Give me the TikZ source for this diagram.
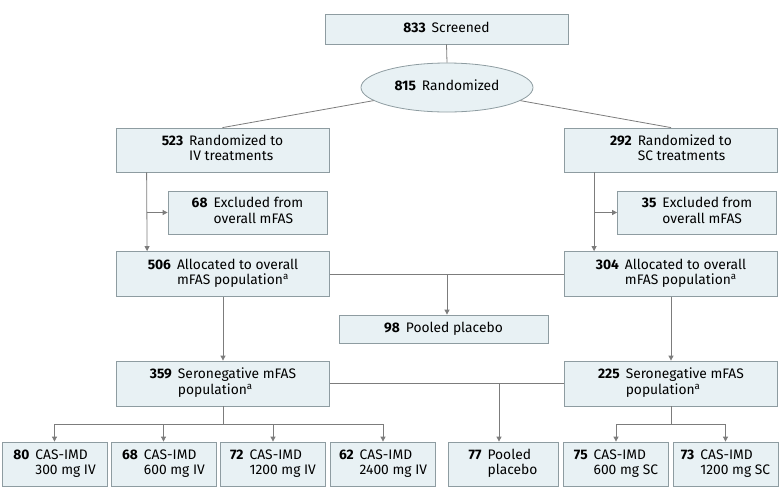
\documentclass[tikz,border=0pt]{standalone}
\usepackage{fontspec}
\setmainfont{Fira Sans}
\usetikzlibrary{arrows.meta,shapes.geometric,calc}
\definecolor{boxfill}{HTML}{E8F1F4}
\definecolor{boxline}{HTML}{8E9CA1}
\definecolor{conn}{HTML}{7C7C7C}
\newcommand\nt[2]{\textbf{#1}\hspace{6pt}\begin{tabular}[t]{@{}l@{}}#2\end{tabular}}
\tikzset{
  box/.style={draw=boxline, fill=boxfill, line width=0.8pt, inner sep=0pt, align=center,
    font=\fontsize{13.8}{15.5}\selectfont},
  wide/.style={box, minimum width=213pt, minimum height=44pt},
  small/.style={box, minimum width=105pt, minimum height=44pt},
  excl/.style={box, minimum width=159pt, minimum height=43pt},
  ln/.style={draw=conn, line width=0.8pt},
  arr/.style={ln, -{Triangle[length=5pt,width=5pt]}}
}
\begin{document}
\begin{tikzpicture}[x=1pt,y=-1pt]
\useasboundingbox (0,0) rectangle (780,499);
% nodes
\node[box, minimum width=243pt, minimum height=30pt] (scr) at (446.5,29) {\nt{833}{Screened}};
\node[box, ellipse, minimum width=172pt, minimum height=49pt] (ell) at (447,87.5) {\nt{815}{Randomized}};
\node[wide] (b523) at (222.5,150) {\nt{523}{Randomized to\\IV treatments}};
\node[wide] (b292) at (671,150) {\nt{292}{Randomized to\\SC treatments}};
\node[excl] (b68) at (247.5,212.5) {\nt{68}{Excluded from\\overall mFAS}};
\node[excl] (b35) at (697,212.5) {\nt{35}{Excluded from\\overall mFAS}};
\node[wide, minimum height=45pt] (b506) at (223,274) {\nt{506}{Allocated to overall\\mFAS population\textsuperscript{a}}};
\node[wide, minimum height=45pt] (b304) at (671,274) {\nt{304}{Allocated to overall\\mFAS population\textsuperscript{a}}};
\node[box, minimum width=209pt, minimum height=28pt] (b98) at (443.5,329) {\nt{98}{Pooled placebo}};
\node[wide, minimum height=45pt] (b359) at (223,383.5) {\nt{359}{Seronegative mFAS\\population\textsuperscript{a}}};
\node[wide, minimum height=45pt] (b225) at (671,383.5) {\nt{225}{Seronegative mFAS\\population\textsuperscript{a}}};
\node[small] (b80) at (54.5,464) {\nt{80}{CAS-IMD\\300 mg IV}};
\node[small] (b68b) at (163.5,464) {\nt{68}{CAS-IMD\\600 mg IV}};
\node[small] (b72) at (273,464) {\nt{72}{CAS-IMD\\1200 mg IV}};
\node[small] (b62) at (383,464) {\nt{62}{CAS-IMD\\2400 mg IV}};
\node[small, minimum width=110pt] (b77) at (503,464) {\nt{77}{Pooled\\placebo}};
\node[small] (b75) at (616,464) {\nt{75}{CAS-IMD\\600 mg SC}};
\node[small] (b73) at (725.5,464) {\nt{73}{CAS-IMD\\1200 mg SC}};
% connectors
\draw[ln] (scr.south) -- (ell.north);
\draw[ln] (ell) -- (b523.north);
\draw[ln] (ell) -- (b292.north);
\draw[arr] ([xshift=31pt]b523.south west) -- ([xshift=31pt]b506.north west);
\draw[arr] ([xshift=31pt]b523.south west |- b68.west) -- (b68.west);
\draw[arr] ([xshift=30pt]b292.south west) -- ([xshift=30pt]b304.north west);
\draw[arr] ([xshift=30pt]b292.south west |- b35.west) -- (b35.west);
\draw[ln] (b506.east) -- (b304.west);
\draw[arr] (ell.south |- b506.east) -- (ell.south |- b98.north);
\draw[arr] (b506.south) -- (b359.north);
\draw[arr] (b304.south) -- (b225.north);
\draw[ln] (b359.east) -- (b225.west);
\draw[arr] ([xshift=-4pt]b77.north |- b359.east) -- ([xshift=-4pt]b77.north);
\draw[ln] (b359.south) -- ++(0,18) coordinate (j1);
\draw[ln] (b80.north |- j1) -- (b62.north |- j1);
\foreach \n in {b80,b68b,b72,b62}{\draw[arr] (\n.north |- j1) -- (\n.north);}
\draw[ln] (b225.south) -- ++(0,18) coordinate (j2);
\draw[ln] (b75.north |- j2) -- (b73.north |- j2);
\foreach \n in {b75,b73}{\draw[arr] (\n.north |- j2) -- (\n.north);}
\end{tikzpicture}
\end{document}
